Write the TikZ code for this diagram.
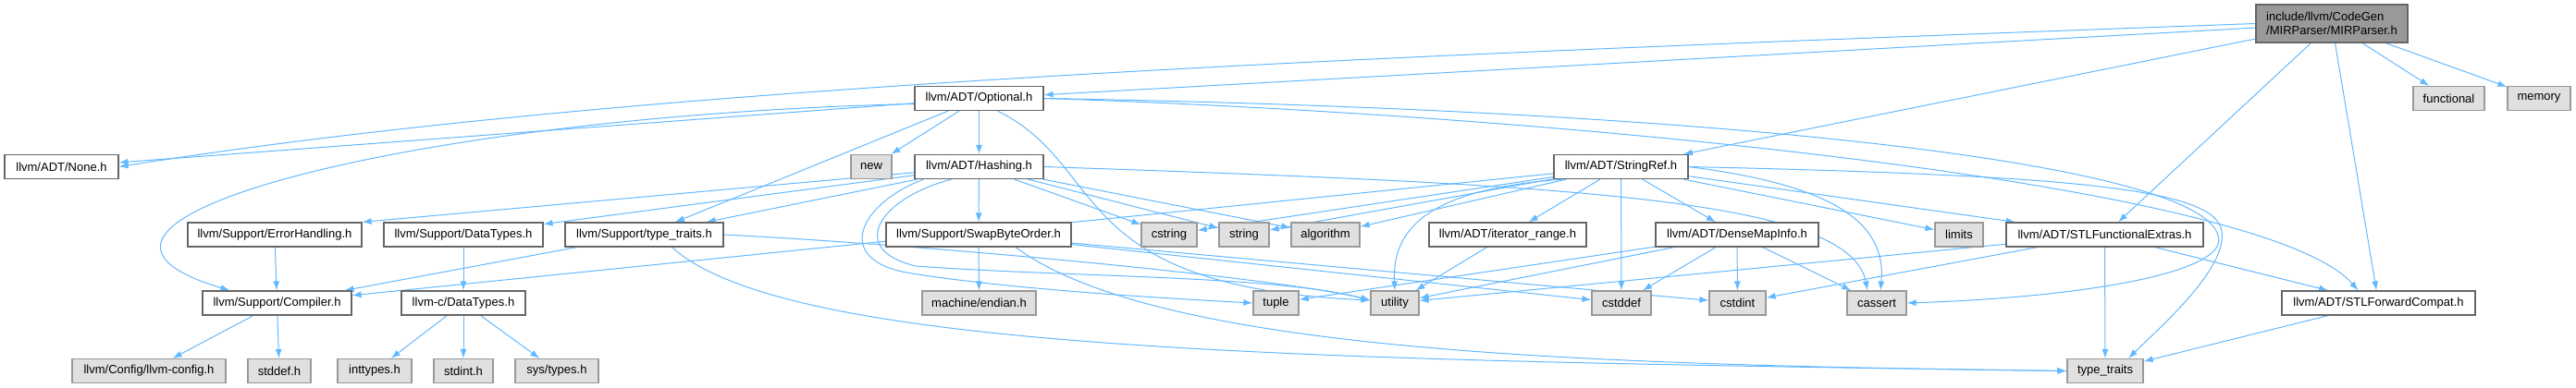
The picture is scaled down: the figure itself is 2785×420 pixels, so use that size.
\documentclass[tikz,border=0pt]{standalone}
\usepackage{fontspec}
\setsansfont{Liberation Sans}
\usepackage{tikz}
\usetikzlibrary{arrows.meta,backgrounds}
\definecolor{doxEdge}{HTML}{63B8FF}
\definecolor{doxLine}{HTML}{666666}
\definecolor{doxSysFill}{HTML}{E0E0E0}
\definecolor{doxSysLine}{HTML}{999999}
\definecolor{doxRootFill}{HTML}{999999}
\tikzset{
  hdrbox/.style={rectangle, draw=doxLine, fill=white, line width=1.2pt,
    minimum height=26pt, inner xsep=2pt, inner ysep=2pt, align=center,
    font=\sffamily\fontsize{13}{15}\selectfont},
  stdbox/.style={hdrbox, draw=doxSysLine, fill=doxSysFill},
  rootbox/.style={hdrbox, fill=doxRootFill, align=left, inner xsep=11pt},
  incarrow/.style={-{Latex[length=10pt,width=7pt]}, draw=doxEdge, line width=1pt},
}

\begin{document}
\begin{tikzpicture}[x=1pt,y=-1pt]
  \useasboundingbox (0,0) rectangle (2785,420);

  \node[rootbox, minimum width=164pt, minimum height=41pt] (mir) at (2521,25.5)
    {include/llvm/CodeGen\\/MIRParser/MIRParser.h};

  \node[hdrbox, minimum width=139pt] (opt) at (1058.5,106.5) {llvm/ADT/Optional.h};
  \node[stdbox, minimum width=77pt] (func) at (2647.5,106.5) {functional};
  \node[stdbox, minimum width=68pt] (mem) at (2745,106.5) {memory};

  \node[hdrbox, minimum width=123pt] (none) at (66.5,180.5) {llvm/ADT/None.h};
  \node[stdbox, minimum width=44pt] (new) at (942,180.5) {new};
  \node[hdrbox, minimum width=139pt] (hash) at (1058.5,180.5) {llvm/ADT/Hashing.h};
  \node[hdrbox, minimum width=145pt] (sref) at (1752.5,180.5) {llvm/ADT/StringRef.h};

  \node[hdrbox, minimum width=188pt] (errh) at (297,254) {llvm/Support/ErrorHandling.h};
  \node[hdrbox, minimum width=172pt] (supdt) at (501,254) {llvm/Support/DataTypes.h};
  \node[hdrbox, minimum width=171pt] (suptt) at (696.5,254) {llvm/Support/type\_traits.h};
  \node[hdrbox, minimum width=200pt] (swap) at (1058,254) {llvm/Support/SwapByteOrder.h};
  \node[stdbox, minimum width=60pt] (cstring) at (1264,254) {cstring};
  \node[stdbox, minimum width=54pt] (string) at (1345,254) {string};
  \node[stdbox, minimum width=74pt] (algo) at (1433,254) {algorithm};
  \node[hdrbox, minimum width=170pt] (itr) at (1630,254) {llvm/ADT/iterator\_range.h};
  \node[hdrbox, minimum width=176pt] (dmi) at (1878,254) {llvm/ADT/DenseMapInfo.h};
  \node[stdbox, minimum width=52pt] (limits) at (2118,254) {limits};
  \node[hdrbox, minimum width=213pt] (stlfe) at (2275.5,254) {llvm/ADT/STLFunctionalExtras.h};

  \node[hdrbox, minimum width=161pt] (comp) at (299.5,328) {llvm/Support/Compiler.h};
  \node[hdrbox, minimum width=134pt] (lcdt) at (501,328) {llvm-c/DataTypes.h};
  \node[stdbox, minimum width=123pt] (endian) at (1058.5,328) {machine/endian.h};
  \node[stdbox, minimum width=49pt] (tuple) at (1379.5,328) {tuple};
  \node[stdbox, minimum width=52pt] (utility) at (1508,328) {utility};
  \node[stdbox, minimum width=64pt] (cstddef) at (1753,328) {cstddef};
  \node[stdbox, minimum width=61pt] (cstdint) at (1878.5,328) {cstdint};
  \node[stdbox, minimum width=64pt] (cassert) at (2029,328) {cassert};
  \node[hdrbox, minimum width=209pt] (stlfwd) at (2571.5,328) {llvm/ADT/STLForwardCompat.h};

  \node[stdbox, minimum width=166pt] (lcfg) at (161,401.5) {llvm/Config/llvm-config.h};
  \node[stdbox, minimum width=68pt] (stddef) at (302,401.5) {stddef.h};
  \node[stdbox, minimum width=80pt] (inttypes) at (405,401.5) {inttypes.h};
  \node[stdbox, minimum width=64pt] (stdint) at (501,401.5) {stdint.h};
  \node[stdbox, minimum width=90pt] (systypes) at (602,401.5) {sys/types.h};
  \node[stdbox, minimum width=82pt] (tt) at (2276,401.5) {type\_traits};

  \begin{scope}[on background layer]
    % MIRParser.h
    \draw[incarrow] (mir.west) .. controls (1500,60) and (700,90) .. (none.east);
    \draw[incarrow] (mir) -- (opt);
    \draw[incarrow] (mir) -- (sref);
    \draw[incarrow] (mir) -- (stlfe);
    \draw[incarrow] (mir) -- (stlfwd);
    \draw[incarrow] (mir) -- (func);
    \draw[incarrow] (mir) -- (mem);

    % Optional.h
    \draw[incarrow] (opt) -- (none);
    \draw[incarrow] ([yshift=-6pt]opt.west) .. controls (450,125) and (0,240) .. ([xshift=30pt]comp.north west);
    \draw[incarrow] (opt) -- (suptt);
    \draw[incarrow] (opt) -- (new);
    \draw[incarrow] (opt) -- (hash);
    \draw[incarrow] ([xshift=20pt]opt.south) .. controls (1200,180) and (1150,310) .. ([yshift=3pt]utility.west);
    \draw[incarrow] (opt.east) .. controls (1700,125) and (2450,200) .. ([xshift=-22pt]stlfwd.north);
    \draw[incarrow] (opt.east) .. controls (1900,120) and (2380,180) .. (2398,255)
      .. controls (2412,295) and (2250,322) .. (cassert.east);

    % Hashing.h
    \draw[incarrow] (hash) -- (errh.north east);
    \draw[incarrow] (hash) -- (supdt);
    \draw[incarrow] (hash) -- (suptt);
    \draw[incarrow] (hash) -- (swap);
    \draw[incarrow] (hash) -- (cstring);
    \draw[incarrow] (hash) -- (string);
    \draw[incarrow] (hash) -- (algo);
    \draw[incarrow] ([xshift=-60pt]hash.south) .. controls (930,220) and (900,280) .. (980,295)
      .. controls (1100,315) and (1300,325) .. (tuple.west);
    \draw[incarrow] ([xshift=-30pt]hash.south) .. controls (950,215) and (915,270) .. (990,288)
      .. controls (1150,300) and (1380,298) .. ([yshift=3pt]utility.west);
    \draw[incarrow] (hash.east) .. controls (1700,200) and (2000,215) .. ([xshift=-10pt]cassert.north);

    % StringRef.h
    \draw[incarrow] (sref) -- (comp);
    \draw[incarrow] (sref) -- (cstring);
    \draw[incarrow] (sref) -- (string);
    \draw[incarrow] (sref) -- (algo);
    \draw[incarrow] ([xshift=10pt]sref.south west) .. controls (1540,205) and (1505,250) .. (utility.north);
    \draw[incarrow] (sref) -- (itr);
    \draw[incarrow] (sref) -- (cstddef);
    \draw[incarrow] (sref) -- (dmi);
    \draw[incarrow] (sref) -- (limits);
    \draw[incarrow] (sref) -- (stlfe);
    \draw[incarrow] (sref.east) .. controls (1980,200) and (2040,240) .. ([xshift=4pt]cassert.north);
    \draw[incarrow] (sref.east) .. controls (2250,190) and (2395,205) .. (2402,250)
      .. controls (2408,290) and (2340,350) .. ([xshift=25pt]tt.north);

    % DenseMapInfo.h, iterator_range.h
    \draw[incarrow] (dmi) -- (tuple);
    \draw[incarrow] (dmi) -- (utility);
    \draw[incarrow] (dmi) -- (cstddef);
    \draw[incarrow] (dmi) -- (cstdint);
    \draw[incarrow] (dmi) -- (cassert);
    \draw[incarrow] (itr) -- (utility);

    % STLFunctionalExtras.h, STLForwardCompat.h
    \draw[incarrow] (stlfe) -- (utility);
    \draw[incarrow] (stlfe) -- (cstdint);
    \draw[incarrow] (stlfe) -- (tt);
    \draw[incarrow] (stlfe) -- (stlfwd);
    \draw[incarrow] (stlfwd) -- (tt);

    % SwapByteOrder.h
    \draw[incarrow] (swap) -- (endian);
    \draw[incarrow] (swap) -- (cstddef);
    \draw[incarrow] (swap) -- (cstdint);
    \draw[incarrow] ([xshift=40pt]swap.south) .. controls (1250,380) and (1700,395) .. (tt.west);

    % Support headers
    \draw[incarrow] (suptt) -- (comp);
    \draw[incarrow] (suptt.east) .. controls (1000,265) and (1380,300) .. ([yshift=3pt]utility.west);
    \draw[incarrow] ([xshift=30pt]suptt.south) .. controls (850,380) and (1400,390) .. (tt.west);
    \draw[incarrow] (errh) -- (comp);
    \draw[incarrow] (supdt) -- (lcdt);
    \draw[incarrow] (comp) -- (lcfg);
    \draw[incarrow] (comp) -- (stddef);
    \draw[incarrow] (lcdt) -- (inttypes);
    \draw[incarrow] (lcdt) -- (stdint);
    \draw[incarrow] (lcdt) -- (systypes);
  \end{scope}
\end{tikzpicture}
\end{document}
